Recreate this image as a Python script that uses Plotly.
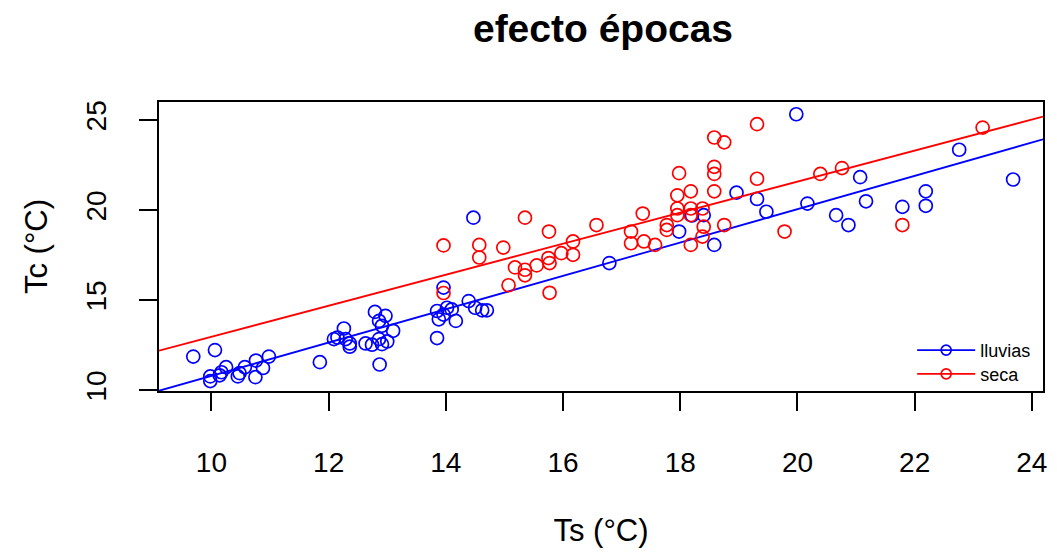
import numpy as np
import plotly.graph_objects as go

# ---- data ----
lluvias_ts = [9.69, 10.06, 9.98, 9.98, 10.17, 10.14, 10.25, 10.45, 10.48, 10.57,
              10.75, 10.76, 10.88, 10.98, 11.85, 12.26, 12.15, 12.09, 12.29, 12.36,
              12.36, 12.79, 12.97, 12.86, 12.91, 13.10, 12.63, 12.74, 12.86, 12.91,
              13.00, 12.87, 13.96, 13.85, 13.88, 13.85, 14.17, 14.02, 14.10, 13.96,
              14.39, 14.50, 14.62, 14.70, 14.47, 16.79, 17.98, 18.20, 18.40, 18.58,
              18.96, 19.31, 19.47, 19.98, 20.17, 21.07, 21.17, 20.66, 20.87, 22.76,
              23.68, 22.19, 22.19, 21.79]
lluvias_tc = [11.87, 12.23, 10.77, 10.51, 11.00, 10.83, 11.28, 10.77, 10.95, 11.28,
              10.73, 11.65, 11.24, 11.87, 11.56, 13.43, 12.93, 12.84, 12.84, 12.42,
              12.60, 14.35, 14.13, 13.85, 13.58, 13.30, 12.60, 12.53, 12.84, 12.56,
              12.71, 11.43, 15.70, 14.40, 13.94, 12.90, 13.85, 14.58, 14.49, 14.20,
              14.95, 14.58, 14.44, 14.44, 19.58, 17.06, 18.81, 19.70, 19.72, 18.07,
              20.97, 20.62, 19.91, 25.32, 20.36, 21.83, 20.49, 19.72, 19.17, 23.35,
              21.70, 21.04, 20.24, 20.18]

seca_ts = [13.96, 13.96, 14.57, 14.57, 14.98, 15.35, 15.76, 15.18, 15.35, 15.35,
           15.07, 15.55, 15.75, 15.77, 15.97, 16.17, 16.17, 15.77, 16.57, 18.58,
           18.75, 18.58, 18.58, 17.98, 17.95, 18.18, 18.58, 19.31, 19.31, 17.36,
           17.16, 17.16, 17.38, 17.57, 17.77, 17.77, 17.95, 17.95, 18.18, 18.18,
           18.38, 18.40, 18.38, 18.18, 18.75, 19.78, 20.39, 20.76, 23.16, 21.79]
seca_tc = [18.04, 15.40, 18.07, 17.37, 17.92, 19.58, 18.81, 16.82, 16.69, 16.38,
           15.83, 16.93, 17.34, 17.06, 17.61, 18.26, 17.52, 15.41, 19.17, 24.03,
           23.76, 22.40, 22.01, 22.05, 20.82, 21.04, 21.04, 24.77, 21.74, 19.81,
           18.81, 18.16, 18.26, 18.07, 19.17, 18.90, 20.09, 19.72, 20.09, 19.72,
           20.09, 19.08, 18.53, 18.07, 19.17, 18.81, 22.01, 22.33, 24.58, 19.17]

# regression lines (intercept, slope)
lluvias_fit = (1.55, 0.925)
seca_fit = (4.36, 0.861)

x_ticks = [10, 12, 14, 16, 18, 20, 22, 24]
y_ticks = [10, 15, 20, 25]
x_range = [9.105, 24.19]
y_range = [9.96, 26.0]

BLUE = "#0000FF"
RED = "#FF0000"
FONT = "Liberation Sans"

fig = go.Figure()

xl = np.array(x_range)
series = [("lluvias", lluvias_ts, lluvias_tc, lluvias_fit, BLUE, "legend"),
          ("seca", seca_ts, seca_tc, seca_fit, RED, "legend2")]
for name, xs, ys, fit, col, leg in series:
    fig.add_trace(go.Scatter(
        x=xs, y=ys, mode="markers", name=name, showlegend=False,
        marker=dict(symbol="circle-open", size=13, color=col, line=dict(width=1.7, color=col)),
    ))
    fig.add_trace(go.Scatter(
        x=xl, y=fit[0] + fit[1] * xl, mode="lines", showlegend=False,
        line=dict(color=col, width=1.8), hoverinfo="skip",
    ))
    # legend entry (line with circle)
    fig.add_trace(go.Scatter(
        x=[None], y=[None], mode="lines+markers", name=name, legend=leg,
        line=dict(color=col, width=1.8),
        marker=dict(symbol="circle-open", size=10, color=col, line=dict(width=1.7, color=col)),
    ))

axis_common = dict(
    showline=True, linecolor="black", linewidth=1.6, mirror=True,
    ticks="outside", ticklen=18, tickwidth=1.5, tickcolor="black",
    showgrid=False, zeroline=False,
    tickfont=dict(family=FONT, size=28, color="black"),
)

leg_common = dict(xanchor="left", yanchor="middle",
                  bgcolor="rgba(0,0,0,0)", borderwidth=0,
                  font=dict(family=FONT, size=18, color="black"),
                  itemwidth=58)

fig.update_layout(
    width=1057, height=552,
    margin=dict(l=159, r=10, t=102, b=158),
    paper_bgcolor="white", plot_bgcolor="white",
    title=dict(text="<b>efecto épocas</b>", x=(159 + 1047) / 2 / 1057, xanchor="center",
               y=1 - 28 / 552, yanchor="middle",
               font=dict(family=FONT, size=39, color="black")),
    xaxis=dict(range=x_range, tickvals=x_ticks, ticktext=[str(v) for v in x_ticks],
               ticklabelstandoff=28,
               title=dict(text="Ts (°C)", font=dict(family=FONT, size=31, color="black"), standoff=42),
               **axis_common),
    yaxis=dict(range=y_range, tickvals=y_ticks, ticktext=[str(v) for v in y_ticks],
               tickangle=-90, ticklabelstandoff=22,
               title=dict(text="Tc (°C)", font=dict(family=FONT, size=31, color="black"), standoff=24),
               **axis_common),
    legend=dict(x=0.852, y=(394 - 353) / 292, **leg_common),
    legend2=dict(x=0.852, y=(394 - 377) / 292, **leg_common),
    showlegend=True,
)

fig.write_html("out.html")
